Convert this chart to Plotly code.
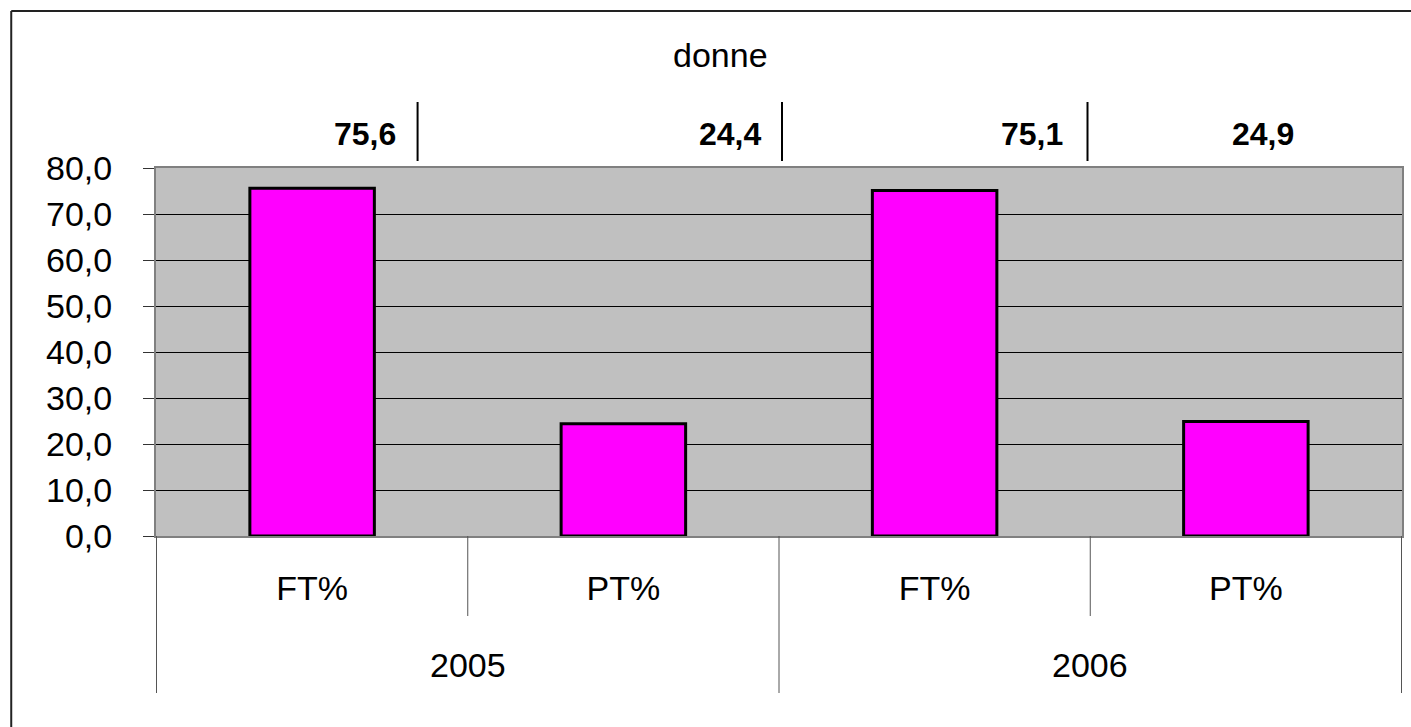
import plotly.graph_objects as go

# Quote di occupazione femminile: tempo pieno / part-time
years = ["2005", "2005", "2006", "2006"]
contracts = ["FT%", "PT%", "FT%", "PT%"]
values = [75.6, 24.4, 75.1, 24.9]
y_ticks = [0, 10, 20, 30, 40, 50, 60, 70, 80]
title_text = "donne"

W, H = 1411, 727
L, R, T, B = 156, 1404, 168, 536  # plot area in pixels
pw, ph = R - L, B - T


def px_x(p):
    return (p - L) / pw


def px_y(p):
    return (B - p) / ph


FONT = "Liberation Sans, Arial, sans-serif"

keys = [f"{y} {c}" for y, c in zip(years, contracts)]

fig = go.Figure(
    go.Bar(
        x=keys,
        y=values,
        marker=dict(color="#FF00FF", line=dict(color="black", width=3)),
        showlegend=False,
    )
)

# value labels above the plot area, with the vertical separators
label_pos = [(398, "right"), (764, "right"), (1066, "right"), (1265, "center")]
annotations = []
for v, (xp, anchor) in zip(values, label_pos):
    annotations.append(dict(
        x=px_x(xp), y=px_y(134), xref="paper", yref="paper",
        text="<b>" + f"{v:.1f}".replace(".", ",") + "</b>",
        xanchor=anchor, yanchor="middle", showarrow=False,
        font=dict(family=FONT, size=32, color="black"),
    ))
annotations.append(dict(
    x=px_x(721), y=px_y(55), xref="paper", yref="paper",
    text=title_text, xanchor="center", yanchor="middle", showarrow=False,
    font=dict(family=FONT, size=34, color="black"),
))

# outer category level (years), centred under their groups
groups = []
for i, y in enumerate(years):
    if not groups or groups[-1][0] != y:
        groups.append([y, i, i])
    else:
        groups[-1][2] = i
for y, i0, i1 in groups:
    annotations.append(dict(
        x=(i0 + i1) / 2, y=px_y(665), xref="x", yref="paper",
        text=y, xanchor="center", yanchor="middle", showarrow=False,
        font=dict(family=FONT, size=34, color="black"),
    ))

shapes = []
for sx in (418, 783, 1089):
    shapes.append(dict(type="line", xref="paper", yref="paper",
                       x0=px_x(sx), x1=px_x(sx), y0=px_y(102), y1=px_y(161),
                       line=dict(color="black", width=2)))

# category dividers: short ones inside a year, long ones between years
for i in range(len(keys) + 1):
    pos = i - 0.5
    long_div = i == 0 or i == len(keys) or years[i] != years[i - 1]
    shapes.append(dict(type="line", xref="x", yref="paper",
                       x0=pos, x1=pos, y0=0, y1=px_y(693 if long_div else 616),
                       line=dict(color="#555", width=1)))

# chart area frame
shapes.append(dict(type="line", xref="paper", yref="paper",
                   x0=px_x(11), x1=px_x(11), y0=px_y(11), y1=px_y(740),
                   line=dict(color="#222", width=2)))
shapes.append(dict(type="line", xref="paper", yref="paper",
                   x0=px_x(11), x1=px_x(1420), y0=px_y(11), y1=px_y(11),
                   line=dict(color="#222", width=2)))

fig.update_layout(
    width=W, height=H,
    margin=dict(l=L, r=W - R, t=T, b=H - B, pad=0),
    paper_bgcolor="white",
    plot_bgcolor="#C0C0C0",
    bargap=0.6,
    separators=",.",
    font=dict(family=FONT, size=34, color="black"),
    annotations=annotations,
    shapes=shapes,
    xaxis=dict(
        type="category",
        tickvals=keys, ticktext=contracts,
        showgrid=False,
        showline=True, mirror=True, linecolor="#808080", linewidth=2,
        ticks="",
        tickfont=dict(family=FONT, size=34, color="black"),
        ticklabelstandoff=21,
    ),
    yaxis=dict(
        range=[0, 80],
        tickvals=y_ticks,
        tickformat=".1f",
        showgrid=True, gridcolor="black", gridwidth=1,
        showline=True, mirror=True, linecolor="#808080", linewidth=2,
        ticks="outside", ticklen=11, tickcolor="#333", tickwidth=1,
        tickfont=dict(family=FONT, size=34, color="black"),
        ticklabelstandoff=24,
        zeroline=False,
    ),
)

fig.write_html("out.html")
